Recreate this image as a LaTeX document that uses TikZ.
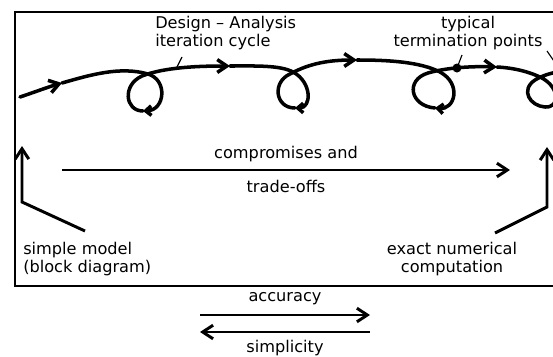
\documentclass[tikz,border=0pt]{standalone}
\usepackage{fontspec}
\setmainfont{DejaVu Sans}
\usetikzlibrary{arrows.meta}

\tikzstyle{textStyle}=[inner sep=0pt, font=\fontsize{11.5}{13}\selectfont]
\tikzstyle{frameStyle}=[line width=1pt]
\tikzstyle{leaderStyle}=[line width=0.8pt]
\tikzstyle{cycleStyle}=[line width=2.5pt, line cap=round, line join=round]
\tikzstyle{bigTip}=[-{Straight Barb[length=2.4mm,width=3.2mm]}]
\tikzstyle{smallTip}=[-{Straight Barb[length=1.4mm,width=2.4mm]}]
\tikzstyle{thickArrowStyle}=[line width=2.1pt, line join=miter, -{Straight Barb[length=2.6mm,width=3.4mm]}]

\begin{document}
\begin{tikzpicture}[x=0.025cm, y=0.025cm]

	\useasboundingbox (0,0) rectangle (553,-356);

	% Rahmen (rechts abgeschnitten)
	\draw[frameStyle] (560,-12) -- (15,-12) -- (15,-286) -- (560,-286);

	% Iterationskurve
	\draw[cycleStyle, bigTip] (20,-97) .. controls (35,-92) and (48,-87) .. (62,-83);
	\draw[cycleStyle, smallTip] (62,-83) .. controls (90,-75) and (120,-66) .. (148,-74)
		.. controls (168,-80) and (165,-110) .. (143,-111);
	\draw[cycleStyle, bigTip] (143,-111) .. controls (125,-111) and (122,-85) .. (142,-76)
		.. controls (165,-67) and (200,-66) .. (230,-66);
	\draw[cycleStyle, smallTip] (230,-66) .. controls (255,-66) and (280,-65) .. (293,-72)
		.. controls (312,-82) and (312,-108) .. (295,-108);
	\draw[cycleStyle, bigTip] (295,-108) .. controls (275,-108) and (272,-82) .. (290,-74)
		.. controls (310,-63) and (330,-60) .. (357,-60);
	\draw[cycleStyle, smallTip] (357,-60) .. controls (390,-60) and (420,-62) .. (440,-72)
		.. controls (462,-84) and (455,-110) .. (435,-108);
	\draw[cycleStyle, bigTip] (435,-108) .. controls (410,-106) and (405,-80) .. (428,-73)
		.. controls (445,-68) and (470,-66) .. (497,-67);
	\draw[cycleStyle] (497,-67) .. controls (515,-68) and (530,-72) .. (542,-78)
		.. controls (560,-88) and (560,-108) .. (545,-107)
		.. controls (530,-106) and (520,-90) .. (535,-80)
		.. controls (545,-74) and (555,-72) .. (570,-70);

	% Abbruchpunkt
	\coordinate (stopPoint) at (457,-68);
	\fill (stopPoint) circle (4.5);

	% Beschriftungen oben
	\node(cycle) at (155,-16) [textStyle, anchor=north west, align=left] {Design -- Analysis\\iteration cycle};
	\node(stop) at (468,-16) [textStyle, anchor=north, align=center] {typical\\termination points};

	\coordinate (cycleTickA) at (182,-57);
	\coordinate (cycleTickB) at (176,-69);
	\draw[leaderStyle] (cycleTickA) -- (cycleTickB);
	\coordinate (stopTickA) at (462,-55);
	\draw[leaderStyle] (stopTickA) -- (stopPoint);
	\coordinate (pointsTickA) at (547,-51);
	\coordinate (pointsTickB) at (556,-64);
	\draw[leaderStyle] (pointsTickA) -- (pointsTickB);

	% Kompromisse
	\coordinate (tradeStart) at (62,-170);
	\coordinate (tradeEnd) at (510,-170);
	\draw[thickArrowStyle] (tradeStart) -- node[midway, above=5pt, textStyle]{compromises and}
		node[midway, below=6pt, textStyle]{trade-offs} (tradeEnd);

	% Modelle links und rechts
	\node(simple) at (23,-242) [textStyle, anchor=north west, align=left] {simple model\\(block diagram)};
	\node(exact) at (452,-242) [textStyle, anchor=north, align=center] {exact numerical\\computation};

	\coordinate (simpleFoot) at (85,-231);
	\coordinate (simpleKnee) at (22,-202);
	\coordinate (simpleTip) at (22,-146);
	\draw[thickArrowStyle] (simpleFoot) -- (simpleKnee) -- (simpleTip);

	\coordinate (exactFoot) at (495,-233);
	\coordinate (exactKnee) at (547,-207);
	\coordinate (exactTip) at (547,-147);
	\draw[thickArrowStyle] (exactFoot) -- (exactKnee) -- (exactTip);

	% Genauigkeit / Einfachheit
	\coordinate (accStart) at (200,-315);
	\coordinate (accEnd) at (370,-315);
	\draw[thickArrowStyle] (accStart) -- node[midway, above=6pt, textStyle]{accuracy} (accEnd);
	\coordinate (simStart) at (370,-332);
	\coordinate (simEnd) at (200,-332);
	\draw[thickArrowStyle] (simStart) -- node[midway, below=5pt, textStyle]{simplicity} (simEnd);

\end{tikzpicture}
\end{document}
